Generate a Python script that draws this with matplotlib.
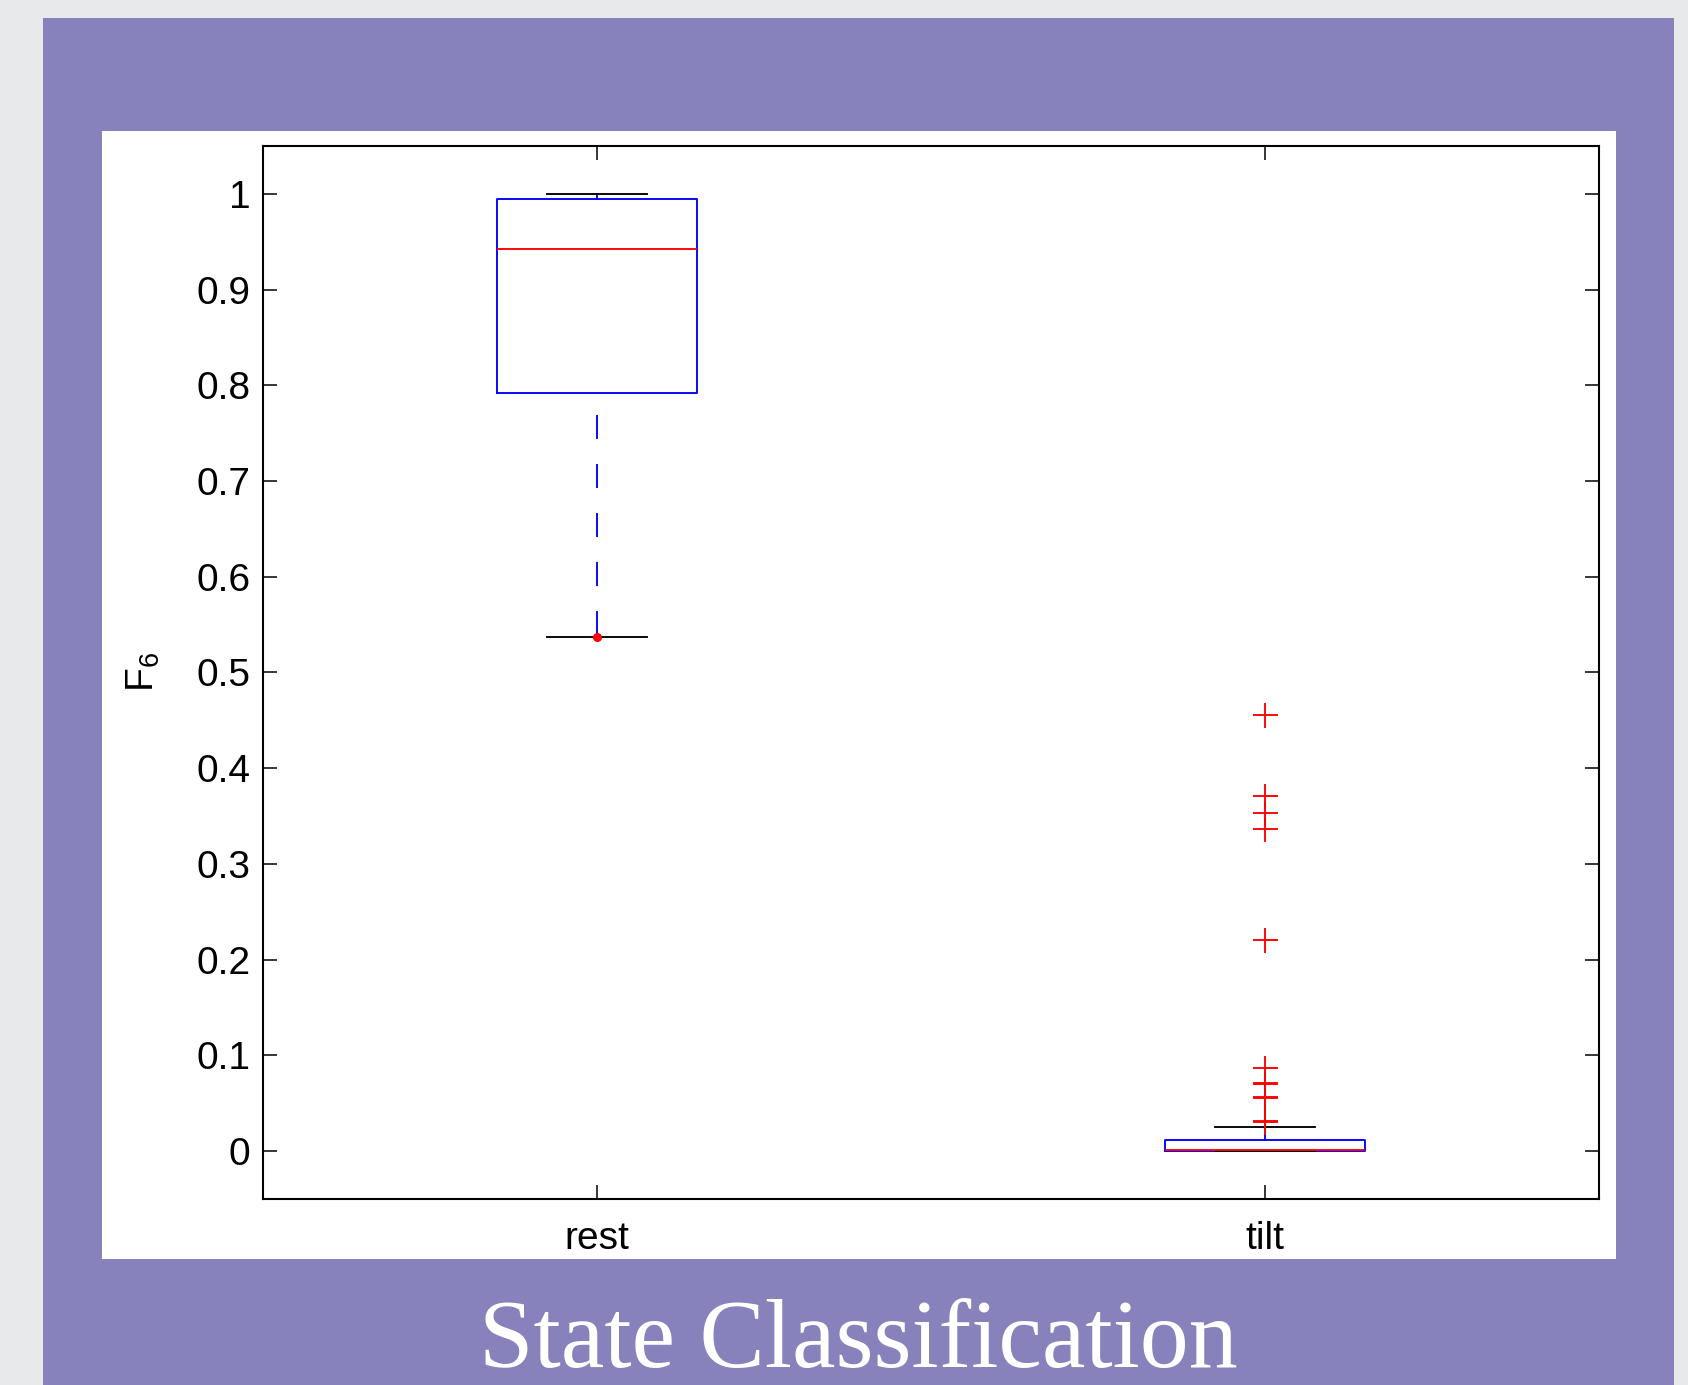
import numpy as np
import matplotlib
matplotlib.use('Agg')
import matplotlib.pyplot as plt
from matplotlib.patches import Rectangle

plt.rcParams['font.family'] = ['Liberation Sans', 'DejaVu Sans']
plt.rcParams['mathtext.default'] = 'regular'
plt.rcParams['lines.scale_dashes'] = False

# ── data ───────────────────────────────────────────────────────────────────
groups = ['rest', 'tilt']
q1 = [0.792, 0.0]
med = [0.942, 0.0015]
q3 = [0.995, 0.0115]
whis_lo = [0.537, 0.0]
whis_hi = [1.0, 0.025]
rest_fliers = []
tilt_fliers = [0.456, 0.371, 0.353, 0.337, 0.221,
               0.0865, 0.0715, 0.0700, 0.0565, 0.0550, 0.0315, 0.0300]
rest_dot = [0.537]          # red dot sitting on the lower whisker cap

y_ticks = [0, 0.1, 0.2, 0.3, 0.4, 0.5, 0.6, 0.7, 0.8, 0.9, 1.0]
y_labels = ['0', '0.1', '0.2', '0.3', '0.4', '0.5', '0.6', '0.7', '0.8', '0.9', '1']

W, H = 1688, 1385
fig = plt.figure(figsize=(W / 100, H / 100), dpi=100)
fig.patch.set_facecolor('#e8e9eb')

# purple slide panel + white plot card
purple = '#8781bc'
fig.patches.append(Rectangle((43 / W, 0), (1674 - 43) / W, (H - 18) / H,
                             transform=fig.transFigure, facecolor=purple,
                             edgecolor='none', zorder=0))
fig.patches.append(Rectangle((102 / W, (H - 1259) / H), (1616 - 102) / W, (1259 - 131) / H,
                             transform=fig.transFigure, facecolor='white',
                             edgecolor='none', zorder=1))

ax = fig.add_axes([263 / W, (H - 1199) / H, (1599 - 263) / W, (1199 - 146) / H])
ax.set_zorder(2)

stats = []
fliers_all = [rest_fliers, tilt_fliers]
for i, name in enumerate(groups):
    stats.append(dict(label=name, med=med[i], q1=q1[i], q3=q3[i],
                      whislo=whis_lo[i], whishi=whis_hi[i], fliers=fliers_all[i]))

lw = 1.35
bp = ax.bxp(stats, positions=[1, 2], widths=0.3, capwidths=0.15,
            boxprops=dict(color='blue', lw=lw),
            medianprops=dict(color='red', lw=lw),
            whiskerprops=dict(color='blue', lw=lw, linestyle=(19.5, (17.3, 18.0))),
            capprops=dict(color='black', lw=lw),
            flierprops=dict(marker='+', markeredgecolor='red', markersize=18,
                            markeredgewidth=1.35, linestyle='none'))

# upper whiskers are short solid stubs
for wl in bp['whiskers'][1::2]:
    wl.set_linestyle('-')

ax.plot([1] * len(rest_dot), rest_dot, 'o', color='red', ms=5.5, zorder=5)

ax.set_xlim(0.5, 2.5)
ax.set_ylim(-0.05, 1.05)
ax.set_yticks(y_ticks)
ax.set_yticklabels(y_labels)
ax.set_xticks([1, 2])
ax.set_xticklabels(groups)
ax.tick_params(direction='in', length=10, width=1.1, top=True, right=True,
               labelsize=28, colors='black')
ax.tick_params(axis='y', pad=9)
ax.tick_params(axis='x', pad=16)
for s in ax.spines.values():
    s.set_linewidth(1.5)
ax.set_ylabel(r'$F_6$', fontsize=28, labelpad=25)

fig.text(858 / W, (H - 1367) / H, 'State Classification', color='white',
         family='Liberation Serif', fontsize=70.5, ha='center', va='baseline')

fig.savefig('out.png', dpi=100, facecolor=fig.get_facecolor())
